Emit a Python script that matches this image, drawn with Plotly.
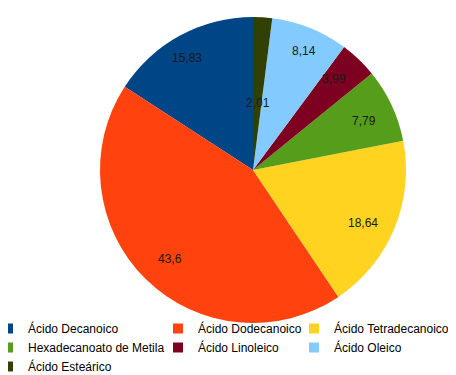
import math
import plotly.graph_objects as go

labels = ["Ácido Decanoico", "Ácido Dodecanoico", "Ácido Tetradecanoico",
          "Hexadecanoato de Metila", "Ácido Linoleico", "Ácido Oleico", "Ácido Esteárico"]
values = [15.83, 43.6, 18.64, 7.79, 3.99, 8.14, 2.01]
value_text = ["15,83", "43,6", "18,64", "7,79", "3,99", "8,14", "2,01"]
colors = ["#004586", "#ff420e", "#ffd320", "#579d1c", "#7e0021", "#83caff", "#314004"]
# legend column of each entry (LibreOffice-style 3-column legend)
legend_col = ["legend", "legend2", "legend3", "legend", "legend2", "legend3", "legend"]

W, H = 456, 375
# pie domain (px)
PX0, PX1 = 92, 398
PY0, PY1 = 9, 315
FONT = "Liberation Sans"

fig = go.Figure()
fig.add_trace(go.Pie(
    labels=labels, values=values,
    textinfo="none",
    sort=False, direction="counterclockwise", rotation=-values[0] * 3.6,
    marker=dict(colors=colors, line=dict(width=0)),
    hoverinfo="label+value",
    showlegend=False,
    domain=dict(x=[PX0 / W, PX1 / W], y=[1 - PY1 / H, 1 - PY0 / H]),
))

# legend entries (legend-only, no marks drawn)
for lab, col, lg in zip(labels, colors, legend_col):
    fig.add_trace(go.Scatter(
        x=[None], y=[None], mode="markers", name=lab, legend=lg,
        marker=dict(symbol="square", size=10, color=col),
        hoverinfo="skip",
    ))

# value labels placed like LibreOffice (near the rim, inward for tiny slices)
cx = (PX0 + PX1) / 2 / W
cy = 1 - (PY0 + PY1) / 2 / H
r_px = min(PX1 - PX0, PY1 - PY0) / 2
total = sum(values)
cum = 0.0
annotations = []
for v, t in zip(values, value_text):
    mid = -(cum + v / 2) / total * 2 * math.pi  # clockwise angle from 12 o'clock
    cum += v
    frac = 0.9 if v / total * 360 >= 10 else 0.5
    annotations.append(dict(
        x=cx + frac * r_px * math.sin(mid) / W,
        y=cy + frac * r_px * math.cos(mid) / H,
        xref="paper", yref="paper", text=t, showarrow=False,
        font=dict(family=FONT, size=12, color="#1a1a1a"),
    ))

legend_common = dict(orientation="v", yanchor="top", xanchor="left",
                     bgcolor="rgba(0,0,0,0)", tracegroupgap=0, itemwidth=30,
                     font=dict(family=FONT, size=12, color="#000000"))
LEG_TOP = 1 - 306 / H

fig.update_layout(
    width=W, height=H,
    margin=dict(l=0, r=0, t=0, b=0, autoexpand=False),
    paper_bgcolor="white", plot_bgcolor="white",
    font=dict(family=FONT, size=12, color="#000000"),
    xaxis=dict(visible=False), yaxis=dict(visible=False),
    annotations=annotations,
    legend=dict(x=-20 / W, y=LEG_TOP, **legend_common),
    legend2=dict(x=150 / W, y=LEG_TOP, **legend_common),
    legend3=dict(x=286 / W, y=LEG_TOP, **legend_common),
)

fig.write_html("out.html")
